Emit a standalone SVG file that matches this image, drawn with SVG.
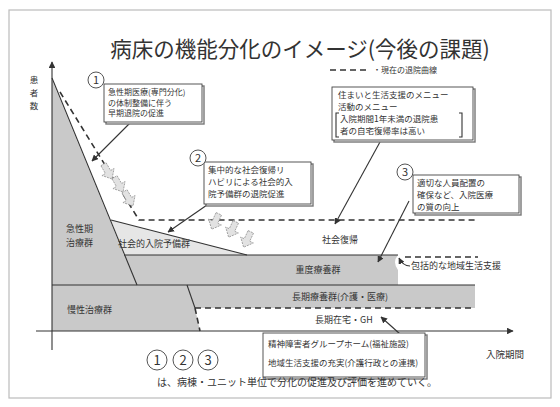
<svg xmlns="http://www.w3.org/2000/svg" width="560" height="407" viewBox="0 0 560 407">
<defs>
<style>
text{font-family:"Noto Sans CJK JP","Noto Sans",sans-serif;fill:#333}
.t{font-size:9px}
.b{font-size:8.5px}
.s{font-size:8px}
.box{fill:#fff;stroke:#444;stroke-width:0.9}
.sh{fill:#fff;stroke:#777;stroke-width:1.4}
.ln{stroke:#333;stroke-width:1.1;fill:none}
.dash{stroke:#333;stroke-width:1.6;fill:none;stroke-dasharray:6 4}
.num{fill:#fff;stroke:#555;stroke-width:1}
.ha{fill:#e2e2e2;stroke:#999;stroke-width:0.8;stroke-dasharray:2 1}
</style>
<marker id="ah" viewBox="0 0 10 10" refX="9" refY="5" markerWidth="6" markerHeight="6" orient="auto-start-reverse"><path d="M0,0L10,5L0,10z" fill="#333"/></marker>
<g id="harrow"><path class="ha" d="M-3,-9L3,-9L3,0L7,0L0,8L-7,0L-3,0z"/></g>
</defs>
<rect x="0" y="0" width="560" height="407" fill="#fff"/>
<rect x="9" y="10" width="542" height="388" fill="none" stroke="#bbb" stroke-width="1.2"/>
<text x="300" y="57" font-size="21.5" text-anchor="middle" fill="#555">病床の機能分化のイメージ(今後の課題)</text>
<g id="legend"><line x1="330" y1="70" x2="370" y2="70" class="dash"/><text x="373" y="73" class="s">・現在の退院曲線</text></g>

<g id="areas">
<path d="M52,80L124,255L398,255Q392,262 398,270L398,285L475,285L475,308L195,308L200,331L52,331z" fill="#c9c9c9"/>
<path d="M111,220L247,255L124,255z" fill="#e6e6e6"/>
</g>

<g id="connectors">
<line x1="52" y1="62" x2="52" y2="350" class="ln" marker-start="url(#ah)"/>
<line x1="36" y1="331" x2="513" y2="331" class="ln" marker-end="url(#ah)"/>
<line x1="52" y1="78" x2="137" y2="285" class="ln"/>
<line x1="111" y1="220" x2="247" y2="255" class="ln"/>
<line x1="124" y1="255" x2="398" y2="255" class="ln" stroke-width="0.6"/>
<line x1="52" y1="285" x2="475" y2="285" class="ln"/>
<line x1="187" y1="285" x2="195" y2="308" class="ln"/>
<path d="M60,92L139,220L477,220" class="dash"/>
<path d="M195,308L200,331" class="dash" stroke-dasharray="4 3"/>
<line x1="195" y1="308" x2="475" y2="308" class="dash"/>
<line x1="405" y1="257" x2="478" y2="257" class="dash"/>
<line x1="130" y1="123" x2="92" y2="161" class="ln" marker-end="url(#ah)"/>
<line x1="207" y1="205" x2="168" y2="232" class="ln" marker-end="url(#ah)"/>
<line x1="380" y1="142" x2="335" y2="224" class="ln" marker-end="url(#ah)"/>
<line x1="409" y1="201" x2="378" y2="262" class="ln" marker-end="url(#ah)"/>
<line x1="400" y1="334" x2="381" y2="317" class="ln" marker-end="url(#ah)"/>
<path d="M410,266Q403,266 399,258" class="ln" marker-end="url(#ah)"/>
<use href="#harrow" transform="translate(108,172) rotate(-30)"/>
<use href="#harrow" transform="translate(119,185) rotate(-30)"/>
<use href="#harrow" transform="translate(129,199) rotate(-30)"/>
<use href="#harrow" transform="translate(215,222) rotate(25)"/>
<use href="#harrow" transform="translate(232,230) rotate(25)"/>
<use href="#harrow" transform="translate(247,240) rotate(25)"/>
</g>

<g id="axis-labels">
<text x="34" y="83" font-size="8.5" text-anchor="middle">患</text>
<text x="34" y="96" font-size="8.5" text-anchor="middle">者</text>
<text x="34" y="109" font-size="8.5" text-anchor="middle">数</text>
<text x="505" y="358" font-size="9.5" text-anchor="middle">入院期間</text>
</g>

<g id="n-acute"><text class="t" x="66" y="232">急性期</text><text class="t" x="66" y="246">治療群</text></g>
<g id="n-social"><text class="t" x="118" y="247">社会的入院予備群</text></g>
<g id="n-return"><text class="t" x="340" y="243" text-anchor="middle">社会復帰</text></g>
<g id="n-severe"><text class="t" x="318" y="273" text-anchor="middle">重度療養群</text></g>
<g id="n-comm"><text class="t" x="411" y="269">包括的な地域生活支援</text></g>
<g id="n-long"><text class="t" x="340" y="300" text-anchor="middle">長期療養群(介護・医療)</text></g>
<g id="n-chronic"><text class="t" x="67" y="313">慢性治療群</text></g>
<g id="n-home"><text class="t" x="344" y="323" text-anchor="middle">長期在宅・GH</text></g>

<g id="box1">
<rect x="106" y="86" width="98" height="38" class="sh"/>
<rect x="104" y="84" width="98" height="38" class="box"/>
<text class="s" x="108" y="95">急性期医療(専門分化)</text>
<text class="s" x="108" y="105.5">の体制整備に伴う</text>
<text class="s" x="108" y="116">早期退院の促進</text>
<circle cx="96" cy="80" r="8" class="num"/><text x="96" y="84" font-size="11" text-anchor="middle">1</text>
</g>
<g id="box2">
<rect x="206" y="164" width="107" height="42" class="sh"/>
<rect x="204" y="162" width="107" height="42" class="box"/>
<text class="b" x="208" y="173">集中的な社会復帰リ</text>
<text class="b" x="208" y="185">ハビリによる社会的入</text>
<text class="b" x="208" y="197">院予備群の退院促進</text>
<circle cx="198" cy="158" r="8" class="num"/><text x="198" y="162" font-size="11" text-anchor="middle">2</text>
</g>
<g id="box3">
<rect x="415" y="177" width="106" height="38" class="sh"/>
<rect x="413" y="175" width="106" height="38" class="box"/>
<text class="b" x="417" y="186">適切な人員配置の</text>
<text class="b" x="417" y="198">確保など、入院医療</text>
<text class="b" x="417" y="210">の質の向上</text>
<circle cx="405" cy="172" r="8" class="num"/><text x="405" y="176" font-size="11" text-anchor="middle">3</text>
</g>
<g id="box-menu">
<rect x="334" y="89" width="141" height="53" class="sh"/>
<rect x="332" y="87" width="141" height="53" class="box"/>
<text x="338" y="98" font-size="8.5">住まいと生活支援のメニュー</text>
<text x="338" y="109.5" font-size="8.5">活動のメニュー</text>
<path d="M339,113H336V137H339M459,113H462V137H459" class="ln" stroke-width="0.8"/>
<text x="340" y="122" font-size="8.5">入院期間1年未満の退院患</text>
<text x="340" y="133.5" font-size="8.5">者の自宅復帰率は高い</text>
</g>
<g id="box-gh">
<rect x="265" y="335" width="162" height="44" class="sh"/>
<rect x="263" y="333" width="162" height="44" class="box"/>
<text x="268" y="347" font-size="8.5">精神障害者グループホーム(福祉施設)</text>
<text x="268" y="366" font-size="8.5">地域生活支援の充実(介護行政との連携)</text>
</g>
<g id="footer">
<circle cx="157" cy="360" r="10" class="num"/><text x="157" y="365" font-size="13" text-anchor="middle">1</text>
<circle cx="183" cy="360" r="10" class="num"/><text x="183" y="365" font-size="13" text-anchor="middle">2</text>
<circle cx="208" cy="360" r="10" class="num"/><text x="208" y="365" font-size="13" text-anchor="middle">3</text>
<text x="157" y="386" font-size="10">は、病棟・ユニット単位で分化の促進及び評価を進めていく。</text>
</g>
</svg>
